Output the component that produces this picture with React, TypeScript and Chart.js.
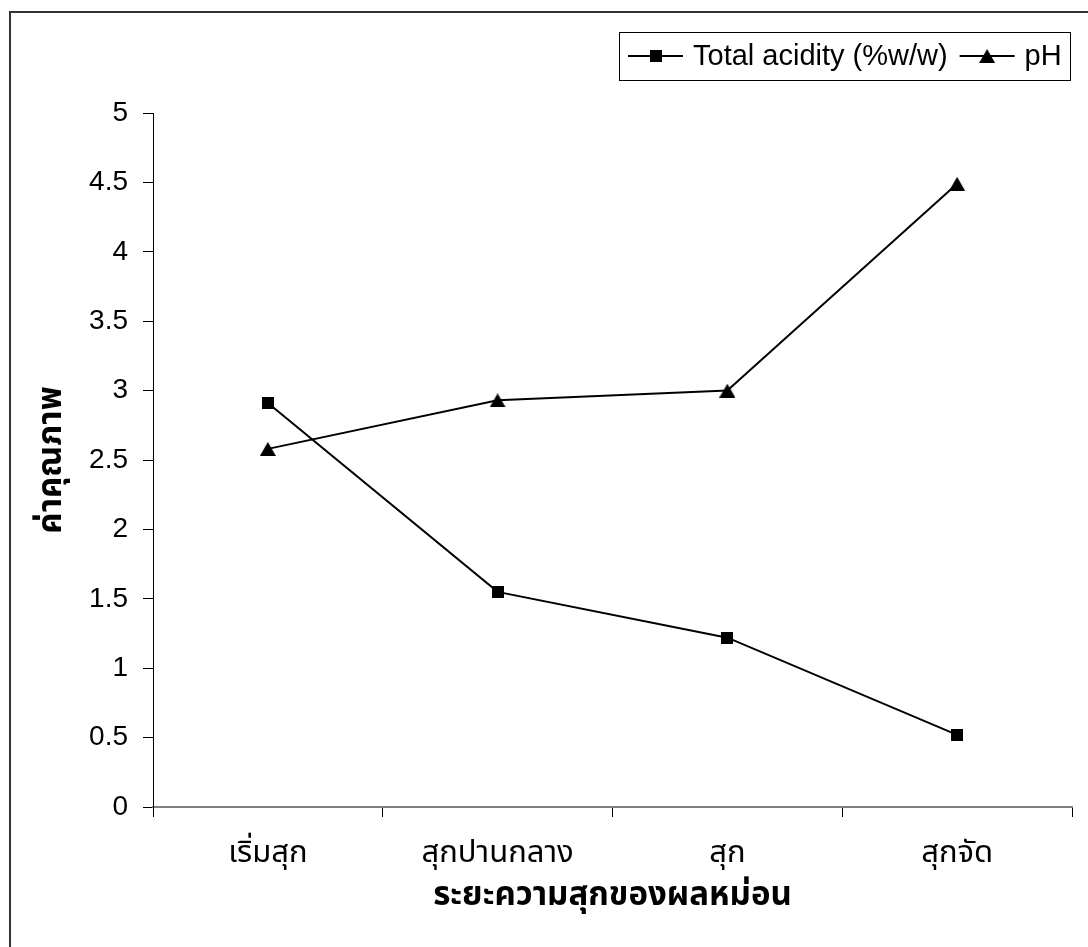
import React, { useEffect, useRef } from "react";
import { Chart, registerables } from "chart.js";

Chart.register(...registerables);

const categories = ["เริ่มสุก", "สุกปานกลาง", "สุก", "สุกจัด"];
const totalAcidity = [2.91, 1.55, 1.22, 0.52];
const phValues = [2.58, 2.93, 3.0, 4.49];
const seriesNames = ["Total acidity (%w/w)", "pH"];
const yTitle = "ค่าคุณภาพ";
const xTitle = "ระยะความสุกของผลหม่อน";
const yMin = 0;
const yMax = 5;
const yStep = 0.5;

const W = 1088;
const H = 947;
const LATIN = "'Liberation Sans', Arial, Helvetica, sans-serif";
const THAI = "'Noto Sans Thai', 'Noto Sans Thai UI', Tahoma, Loma, Garuda, 'Liberation Sans', sans-serif";

function makeSquare(): HTMLCanvasElement {
  const c = document.createElement("canvas");
  c.width = 12;
  c.height = 12;
  const g = c.getContext("2d")!;
  g.fillStyle = "#000";
  g.fillRect(0, 0, 12, 12);
  return c;
}

function makeTriangle(): HTMLCanvasElement {
  const c = document.createElement("canvas");
  c.width = 16;
  c.height = 14;
  const g = c.getContext("2d")!;
  g.fillStyle = "#000";
  g.beginPath();
  g.moveTo(8, 0);
  g.lineTo(16, 14);
  g.lineTo(0, 14);
  g.closePath();
  g.fill();
  return c;
}

export default function App() {
  const ref = useRef<HTMLCanvasElement | null>(null);

  useEffect(() => {
    if (!ref.current) return;
    const square = makeSquare();
    const triangle = makeTriangle();
    const markers = [square, triangle];

    const framePlugin = {
      id: "frame",
      beforeDraw(chart: any) {
        const ctx = chart.ctx;
        ctx.save();
        ctx.fillStyle = "#fff";
        ctx.fillRect(0, 0, chart.width, chart.height);
        ctx.strokeStyle = "#333";
        ctx.lineWidth = 2;
        ctx.beginPath();
        ctx.moveTo(10, chart.height);
        ctx.lineTo(10, 12);
        ctx.lineTo(chart.width, 12);
        ctx.stroke();
        ctx.restore();
      },
    };

    const legendPlugin = {
      id: "boxLegend",
      afterDraw(chart: any) {
        const ctx = chart.ctx;
        ctx.save();
        ctx.strokeStyle = "#000";
        ctx.lineWidth = 1;
        ctx.strokeRect(619.5, 32.5, 451, 48);
        const cy = 56;
        ctx.font = `29px ${LATIN}`;
        ctx.fillStyle = "#000";
        ctx.textBaseline = "middle";
        ctx.textAlign = "left";
        let x = 628;
        chart.data.datasets.forEach((ds: any, i: number) => {
          ctx.strokeStyle = "#000";
          ctx.lineWidth = 2;
          ctx.beginPath();
          ctx.moveTo(x, cy);
          ctx.lineTo(x + 55, cy);
          ctx.stroke();
          const m = markers[i];
          ctx.drawImage(m, x + 27.5 - m.width / 2, cy - m.height / 2);
          ctx.fillText(ds.label, x + 65, cy + 1);
          x = x + 65 + ctx.measureText(ds.label).width + 12;
        });
        ctx.restore();
      },
    };

    const chart = new Chart(ref.current, {
      type: "line",
      data: {
        labels: categories,
        datasets: [
          {
            label: seriesNames[0],
            data: totalAcidity,
            borderColor: "#000",
            backgroundColor: "#000",
            borderWidth: 2,
            pointStyle: square as any,
            pointRadius: 6,
            tension: 0,
            fill: false,
          },
          {
            label: seriesNames[1],
            data: phValues,
            borderColor: "#000",
            backgroundColor: "#000",
            borderWidth: 2,
            pointStyle: triangle as any,
            pointRadius: 7,
            tension: 0,
            fill: false,
          },
        ],
      },
      options: {
        animation: false,
        responsive: false,
        devicePixelRatio: 1,
        layout: { padding: { top: 113, right: 16, bottom: 0, left: 0 } },
        plugins: {
          legend: { display: false },
          tooltip: { enabled: false },
        },
        scales: {
          x: {
            type: "category",
            offset: true,
            grid: {
              offset: true,
              drawOnChartArea: false,
              drawTicks: true,
              tickLength: 10,
              color: "#000",
              lineWidth: 1,
            },
            border: { display: true, color: "#808080", width: 2 },
            ticks: {
              color: "#000",
              font: { family: THAI, size: 31 },
              padding: 20,
              maxRotation: 0,
              autoSkip: false,
            },
            title: {
              display: true,
              text: xTitle,
              color: "#000",
              font: { family: THAI, size: 33, weight: "bold" },
              padding: { top: 0, bottom: 29 },
            },
            afterFit(scale: any) {
              scale.height = H - 807;
            },
          },
          y: {
            min: yMin,
            max: yMax,
            grid: {
              drawOnChartArea: false,
              drawTicks: true,
              tickLength: 10,
              color: "#000",
              lineWidth: 1,
            },
            border: { display: true, color: "#000", width: 1 },
            ticks: {
              stepSize: yStep,
              color: "#000",
              font: { family: LATIN, size: 28 },
              padding: 15,
              callback: (v: any) => String(Number(v)),
            },
            title: {
              display: true,
              text: yTitle,
              color: "#000",
              font: { family: THAI, size: 33, weight: "bold" },
              padding: { top: 35, bottom: 0 },
            },
            afterFit(scale: any) {
              scale.width = 153;
            },
          },
        },
      },
      plugins: [framePlugin, legendPlugin],
    });

    return () => chart.destroy();
  }, []);

  return (
    <div style={{ position: "fixed", left: 0, top: 0, width: W, height: H, background: "#fff" }}>
      <canvas ref={ref} width={W} height={H} style={{ display: "block", width: W, height: H }} />
    </div>
  );
}
